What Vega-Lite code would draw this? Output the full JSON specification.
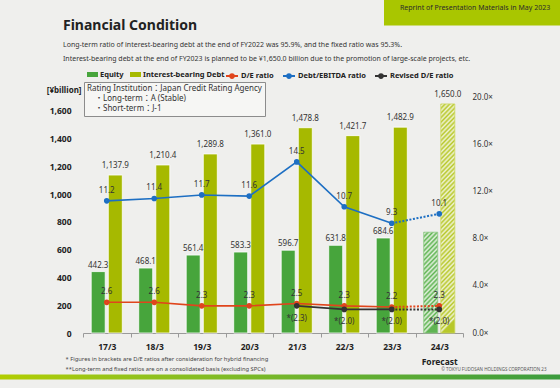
{
  "$schema": "https://vega.github.io/schema/vega-lite/v6.json",
  "width": 380,
  "height": 236,
  "autosize": {"type": "none"},
  "padding": {"left": 83, "top": 97, "right": 97, "bottom": 55},
  "background": "#efefed",
  "config": {
    "font": "Noto Sans, Noto Sans CJK JP, sans-serif",
    "view": {"stroke": null},
    "axis": {"grid": false, "labelOverlap": false, "labelFont": "Noto Sans, Noto Sans CJK JP, sans-serif", "titleFont": "Noto Sans, Noto Sans CJK JP, sans-serif"},
    "axisY": {"labelOverlap": false},
    "axisQuantitative": {"labelOverlap": false},
    "legend": {"labelFont": "Noto Sans, Noto Sans CJK JP, sans-serif", "titleFont": "Noto Sans, Noto Sans CJK JP, sans-serif", "padding": 0},
    "text": {"font": "Noto Sans, Noto Sans CJK JP, sans-serif"}
  },
  "title": {
    "text": "Financial Condition",
    "subtitle": [
      "Long-term ratio of interest-bearing debt at the end of FY2022 was 95.9%, and the fixed ratio was 95.3%.",
      "Interest-bearing debt at the end of FY2023 is planned to be ¥1,650.0 billion due to the promotion of large-scale projects, etc."
    ],
    "anchor": "start",
    "frame": "group",
    "dx": -20,
    "offset": -66.5,
    "font": "Noto Sans, Noto Sans CJK JP, sans-serif",
    "fontSize": 14,
    "fontWeight": "bold",
    "color": "#222222",
    "subtitleFont": "Noto Sans, Noto Sans CJK JP, sans-serif",
    "subtitleFontSize": 7,
    "subtitleColor": "#333333",
    "subtitleLineHeight": 14,
    "subtitlePadding": 8
  },
  "datasets": {
    "bars": [
      {"year": "17/3", "series": "Equity", "value": 442.3, "forecast": false},
      {"year": "17/3", "series": "Interest-bearing Debt", "value": 1137.9, "forecast": false},
      {"year": "18/3", "series": "Equity", "value": 468.1, "forecast": false},
      {"year": "18/3", "series": "Interest-bearing Debt", "value": 1210.4, "forecast": false},
      {"year": "19/3", "series": "Equity", "value": 561.4, "forecast": false},
      {"year": "19/3", "series": "Interest-bearing Debt", "value": 1289.8, "forecast": false},
      {"year": "20/3", "series": "Equity", "value": 583.3, "forecast": false},
      {"year": "20/3", "series": "Interest-bearing Debt", "value": 1361.0, "forecast": false},
      {"year": "21/3", "series": "Equity", "value": 596.7, "forecast": false},
      {"year": "21/3", "series": "Interest-bearing Debt", "value": 1478.8, "forecast": false},
      {"year": "22/3", "series": "Equity", "value": 631.8, "forecast": false},
      {"year": "22/3", "series": "Interest-bearing Debt", "value": 1421.7, "forecast": false},
      {"year": "23/3", "series": "Equity", "value": 684.6, "forecast": false},
      {"year": "23/3", "series": "Interest-bearing Debt", "value": 1482.9, "forecast": false},
      {"year": "24/3", "series": "Equity", "value": 726, "forecast": true},
      {"year": "24/3", "series": "Interest-bearing Debt", "value": 1650.0, "forecast": true}
    ],
    "ratios": [
      {"year": "17/3", "series": "D/E ratio", "value": 2.6, "forecast": false},
      {"year": "18/3", "series": "D/E ratio", "value": 2.6, "forecast": false},
      {"year": "19/3", "series": "D/E ratio", "value": 2.3, "forecast": false},
      {"year": "20/3", "series": "D/E ratio", "value": 2.3, "forecast": false},
      {"year": "21/3", "series": "D/E ratio", "value": 2.5, "forecast": false},
      {"year": "22/3", "series": "D/E ratio", "value": 2.3, "forecast": false},
      {"year": "23/3", "series": "D/E ratio", "value": 2.2, "forecast": false},
      {"year": "24/3", "series": "D/E ratio", "value": 2.3, "forecast": true},
      {"year": "17/3", "series": "Debt/EBITDA ratio", "value": 11.2, "forecast": false},
      {"year": "18/3", "series": "Debt/EBITDA ratio", "value": 11.4, "forecast": false},
      {"year": "19/3", "series": "Debt/EBITDA ratio", "value": 11.7, "forecast": false},
      {"year": "20/3", "series": "Debt/EBITDA ratio", "value": 11.6, "forecast": false},
      {"year": "21/3", "series": "Debt/EBITDA ratio", "value": 14.5, "forecast": false},
      {"year": "22/3", "series": "Debt/EBITDA ratio", "value": 10.7, "forecast": false},
      {"year": "23/3", "series": "Debt/EBITDA ratio", "value": 9.3, "forecast": false},
      {"year": "24/3", "series": "Debt/EBITDA ratio", "value": 10.1, "forecast": true},
      {"year": "21/3", "series": "Revised D/E ratio", "value": 2.3, "forecast": false},
      {"year": "22/3", "series": "Revised D/E ratio", "value": 2.0, "forecast": false},
      {"year": "23/3", "series": "Revised D/E ratio", "value": 2.0, "forecast": false},
      {"year": "24/3", "series": "Revised D/E ratio", "value": 2.0, "forecast": true}
    ]
  },
  "layer": [
    {
      "data": {"name": "bars"},
      "layer": [
        {
          "transform": [{"filter": "!datum.forecast"}],
          "mark": {"type": "bar", "stroke": "#ffffff", "strokeWidth": 0.8},
          "encoding": {
            "x": {
              "field": "year", "type": "nominal", "sort": null,
              "scale": {"domain": ["17/3", "18/3", "19/3", "20/3", "21/3", "22/3", "23/3", "24/3"], "paddingInner": 0, "paddingOuter": 0},
              "axis": {
                "title": ["* Figures  in brackets are D/E ratios after consideration for hybrid financing", "**Long-term and fixed ratios are on a consolidated basis (excluding SPCs)"],
                "titleFontSize": 5.8, "titleFontWeight": "normal", "titleColor": "#444444",
                "titleAlign": "left", "titleAnchor": "start", "titleBaseline": "top",
                "titleX": -18, "titleY": 22, "titleLineHeight": 10,
                "labelAngle": 0, "labelFontSize": 8.5, "labelFontWeight": "bold", "labelColor": "#222222",
                "labelPadding": 5, "labelLineHeight": 15.5,
                "labelExpr": "datum.value == '24/3' ? ['24/3', 'Forecast'] : datum.value",
                "tickBand": "extent", "tickSize": 4, "tickColor": "#9a9a9a",
                "domainColor": "#9a9a9a", "domainWidth": 1.2
              }
            },
            "xOffset": {"field": "series", "type": "nominal", "sort": null, "scale": {"domain": ["Equity", "Interest-bearing Debt"], "paddingInner": 0.18, "paddingOuter": 0.48}},
            "y": {
              "field": "value", "type": "quantitative",
              "scale": {"domain": [0, 1700], "nice": false},
              "axis": {
                "title": "[¥billion]", "titleAngle": 0, "titleAlign": "right", "titleBaseline": "middle",
                "titleX": -2, "titleY": -7, "titleFontSize": 8, "titleFontWeight": "bold", "titleColor": "#222222",
                "values": [0, 200, 400, 600, 800, 1000, 1200, 1400, 1600], "format": ",.0f",
                "labelOverlap": false, "tickCount": 9,
                "domain": false, "ticks": false, "labelPadding": 12,
                "labelFontSize": 8.5, "labelFontWeight": "bold", "labelColor": "#222222"
              }
            },
            "fill": {
              "field": "series", "type": "nominal", "sort": null,
              "scale": {"domain": ["Equity", "Interest-bearing Debt"], "range": ["#47a53c", "#a6b900"]},
              "legend": {
                "title": null, "orient": "none", "direction": "horizontal", "legendX": 4, "legendY": -28,
                "symbolType": "M-1,-0.45H1V0.45H-1Z", "symbolSize": 121, "symbolStrokeWidth": 0,
                "labelFontSize": 7.5, "labelFontWeight": "bold", "labelColor": "#222222", "labelOffset": 2,
                "columnPadding": 6, "padding": 0
              }
            }
          }
        },
        {
          "transform": [{"filter": "datum.forecast"}],
          "mark": {"type": "bar", "strokeWidth": 0.8},
          "encoding": {
            "x": {"field": "year", "type": "nominal", "sort": null},
            "xOffset": {"field": "series", "type": "nominal", "sort": null},
            "y": {"field": "value", "type": "quantitative"},
            "fill": {
              "condition": {
                "test": "datum.series == 'Equity'",
                "value": {
                  "gradient": "linear", "x1": 0, "y1": 0, "x2": 0.144, "y2": 1,
                  "stops": [
                    {"offset": 0, "color": "#5fb453"}, {"offset": 0.0227, "color": "#e4f1df"},
                    {"offset": 0.0455, "color": "#5fb453"}, {"offset": 0.0682, "color": "#e4f1df"},
                    {"offset": 0.0909, "color": "#5fb453"}, {"offset": 0.1136, "color": "#e4f1df"},
                    {"offset": 0.1364, "color": "#5fb453"}, {"offset": 0.1591, "color": "#e4f1df"},
                    {"offset": 0.1818, "color": "#5fb453"}, {"offset": 0.2045, "color": "#e4f1df"},
                    {"offset": 0.2273, "color": "#5fb453"}, {"offset": 0.25, "color": "#e4f1df"},
                    {"offset": 0.2727, "color": "#5fb453"}, {"offset": 0.2955, "color": "#e4f1df"},
                    {"offset": 0.3182, "color": "#5fb453"}, {"offset": 0.3409, "color": "#e4f1df"},
                    {"offset": 0.3636, "color": "#5fb453"}, {"offset": 0.3864, "color": "#e4f1df"},
                    {"offset": 0.4091, "color": "#5fb453"}, {"offset": 0.4318, "color": "#e4f1df"},
                    {"offset": 0.4545, "color": "#5fb453"}, {"offset": 0.4773, "color": "#e4f1df"},
                    {"offset": 0.5, "color": "#5fb453"}, {"offset": 0.5227, "color": "#e4f1df"},
                    {"offset": 0.5455, "color": "#5fb453"}, {"offset": 0.5682, "color": "#e4f1df"},
                    {"offset": 0.5909, "color": "#5fb453"}, {"offset": 0.6136, "color": "#e4f1df"},
                    {"offset": 0.6364, "color": "#5fb453"}, {"offset": 0.6591, "color": "#e4f1df"},
                    {"offset": 0.6818, "color": "#5fb453"}, {"offset": 0.7045, "color": "#e4f1df"},
                    {"offset": 0.7273, "color": "#5fb453"}, {"offset": 0.75, "color": "#e4f1df"},
                    {"offset": 0.7727, "color": "#5fb453"}, {"offset": 0.7955, "color": "#e4f1df"},
                    {"offset": 0.8182, "color": "#5fb453"}, {"offset": 0.8409, "color": "#e4f1df"},
                    {"offset": 0.8636, "color": "#5fb453"}, {"offset": 0.8864, "color": "#e4f1df"},
                    {"offset": 0.9091, "color": "#5fb453"}, {"offset": 0.9318, "color": "#e4f1df"},
                    {"offset": 0.9545, "color": "#5fb453"}, {"offset": 0.9773, "color": "#e4f1df"},
                    {"offset": 1, "color": "#5fb453"}
                  ]
                }
              },
              "value": {
                "gradient": "linear", "x1": 0, "y1": 0, "x2": 0.063, "y2": 1,
                "stops": [
                  {"offset": 0, "color": "#b8c82a"}, {"offset": 0.01, "color": "#f0f3d6"},
                  {"offset": 0.02, "color": "#b8c82a"}, {"offset": 0.03, "color": "#f0f3d6"},
                  {"offset": 0.04, "color": "#b8c82a"}, {"offset": 0.05, "color": "#f0f3d6"},
                  {"offset": 0.06, "color": "#b8c82a"}, {"offset": 0.07, "color": "#f0f3d6"},
                  {"offset": 0.08, "color": "#b8c82a"}, {"offset": 0.09, "color": "#f0f3d6"},
                  {"offset": 0.10, "color": "#b8c82a"}, {"offset": 0.11, "color": "#f0f3d6"},
                  {"offset": 0.12, "color": "#b8c82a"}, {"offset": 0.13, "color": "#f0f3d6"},
                  {"offset": 0.14, "color": "#b8c82a"}, {"offset": 0.15, "color": "#f0f3d6"},
                  {"offset": 0.16, "color": "#b8c82a"}, {"offset": 0.17, "color": "#f0f3d6"},
                  {"offset": 0.18, "color": "#b8c82a"}, {"offset": 0.19, "color": "#f0f3d6"},
                  {"offset": 0.20, "color": "#b8c82a"}, {"offset": 0.21, "color": "#f0f3d6"},
                  {"offset": 0.22, "color": "#b8c82a"}, {"offset": 0.23, "color": "#f0f3d6"},
                  {"offset": 0.24, "color": "#b8c82a"}, {"offset": 0.25, "color": "#f0f3d6"},
                  {"offset": 0.26, "color": "#b8c82a"}, {"offset": 0.27, "color": "#f0f3d6"},
                  {"offset": 0.28, "color": "#b8c82a"}, {"offset": 0.29, "color": "#f0f3d6"},
                  {"offset": 0.30, "color": "#b8c82a"}, {"offset": 0.31, "color": "#f0f3d6"},
                  {"offset": 0.32, "color": "#b8c82a"}, {"offset": 0.33, "color": "#f0f3d6"},
                  {"offset": 0.34, "color": "#b8c82a"}, {"offset": 0.35, "color": "#f0f3d6"},
                  {"offset": 0.36, "color": "#b8c82a"}, {"offset": 0.37, "color": "#f0f3d6"},
                  {"offset": 0.38, "color": "#b8c82a"}, {"offset": 0.39, "color": "#f0f3d6"},
                  {"offset": 0.40, "color": "#b8c82a"}, {"offset": 0.41, "color": "#f0f3d6"},
                  {"offset": 0.42, "color": "#b8c82a"}, {"offset": 0.43, "color": "#f0f3d6"},
                  {"offset": 0.44, "color": "#b8c82a"}, {"offset": 0.45, "color": "#f0f3d6"},
                  {"offset": 0.46, "color": "#b8c82a"}, {"offset": 0.47, "color": "#f0f3d6"},
                  {"offset": 0.48, "color": "#b8c82a"}, {"offset": 0.49, "color": "#f0f3d6"},
                  {"offset": 0.50, "color": "#b8c82a"}, {"offset": 0.51, "color": "#f0f3d6"},
                  {"offset": 0.52, "color": "#b8c82a"}, {"offset": 0.53, "color": "#f0f3d6"},
                  {"offset": 0.54, "color": "#b8c82a"}, {"offset": 0.55, "color": "#f0f3d6"},
                  {"offset": 0.56, "color": "#b8c82a"}, {"offset": 0.57, "color": "#f0f3d6"},
                  {"offset": 0.58, "color": "#b8c82a"}, {"offset": 0.59, "color": "#f0f3d6"},
                  {"offset": 0.60, "color": "#b8c82a"}, {"offset": 0.61, "color": "#f0f3d6"},
                  {"offset": 0.62, "color": "#b8c82a"}, {"offset": 0.63, "color": "#f0f3d6"},
                  {"offset": 0.64, "color": "#b8c82a"}, {"offset": 0.65, "color": "#f0f3d6"},
                  {"offset": 0.66, "color": "#b8c82a"}, {"offset": 0.67, "color": "#f0f3d6"},
                  {"offset": 0.68, "color": "#b8c82a"}, {"offset": 0.69, "color": "#f0f3d6"},
                  {"offset": 0.70, "color": "#b8c82a"}, {"offset": 0.71, "color": "#f0f3d6"},
                  {"offset": 0.72, "color": "#b8c82a"}, {"offset": 0.73, "color": "#f0f3d6"},
                  {"offset": 0.74, "color": "#b8c82a"}, {"offset": 0.75, "color": "#f0f3d6"},
                  {"offset": 0.76, "color": "#b8c82a"}, {"offset": 0.77, "color": "#f0f3d6"},
                  {"offset": 0.78, "color": "#b8c82a"}, {"offset": 0.79, "color": "#f0f3d6"},
                  {"offset": 0.80, "color": "#b8c82a"}, {"offset": 0.81, "color": "#f0f3d6"},
                  {"offset": 0.82, "color": "#b8c82a"}, {"offset": 0.83, "color": "#f0f3d6"},
                  {"offset": 0.84, "color": "#b8c82a"}, {"offset": 0.85, "color": "#f0f3d6"},
                  {"offset": 0.86, "color": "#b8c82a"}, {"offset": 0.87, "color": "#f0f3d6"},
                  {"offset": 0.88, "color": "#b8c82a"}, {"offset": 0.89, "color": "#f0f3d6"},
                  {"offset": 0.90, "color": "#b8c82a"}, {"offset": 0.91, "color": "#f0f3d6"},
                  {"offset": 0.92, "color": "#b8c82a"}, {"offset": 0.93, "color": "#f0f3d6"},
                  {"offset": 0.94, "color": "#b8c82a"}, {"offset": 0.95, "color": "#f0f3d6"},
                  {"offset": 0.96, "color": "#b8c82a"}, {"offset": 0.97, "color": "#f0f3d6"},
                  {"offset": 0.98, "color": "#b8c82a"}, {"offset": 0.99, "color": "#f0f3d6"},
                  {"offset": 1, "color": "#b8c82a"}
                ]
              }
            },
            "stroke": {"condition": {"test": "datum.series == 'Equity'", "value": "#8cc882"}, "value": "#cbd75a"}
          }
        },
        {
          "transform": [{"filter": "datum.series == 'Equity' && !datum.forecast"}],
          "mark": {"type": "text", "dy": -6, "fontSize": 8, "color": "#333333", "baseline": "middle"},
          "encoding": {
            "x": {"field": "year", "type": "nominal", "sort": null},
            "xOffset": {"field": "series", "type": "nominal", "sort": null},
            "y": {"field": "value", "type": "quantitative"},
            "text": {"field": "value", "type": "quantitative", "format": ",.1f"}
          }
        },
        {
          "transform": [{"filter": "datum.series == 'Interest-bearing Debt'"}],
          "mark": {"type": "text", "dy": -9, "fontSize": 8, "color": "#333333", "baseline": "middle"},
          "encoding": {
            "x": {"field": "year", "type": "nominal", "sort": null},
            "xOffset": {"field": "series", "type": "nominal", "sort": null},
            "y": {"field": "value", "type": "quantitative"},
            "text": {"field": "value", "type": "quantitative", "format": ",.1f"}
          }
        }
      ]
    },
    {
      "data": {"name": "ratios"},
      "layer": [
        {
          "transform": [{"filter": "!datum.forecast"}],
          "mark": {"type": "line", "strokeWidth": 1.6},
          "encoding": {
            "x": {"field": "year", "type": "nominal", "sort": null},
            "y": {
              "field": "value", "type": "quantitative",
              "scale": {"domain": [0, 20], "nice": false},
              "axis": {
                "orient": "right", "values": [0, 4, 8, 12, 16, 20],
                "labelExpr": "format(datum.value, '.1f') + '×'",
                "labelOverlap": false,
                "domain": false, "ticks": false, "labelPadding": 9,
                "labelFontSize": 8, "labelColor": "#333333",
                "title": "© TOKYU FUDOSAN HOLDINGS CORPORATION     23",
                "titleAngle": 0, "titleAlign": "right", "titleBaseline": "middle",
                "titleX": 83, "titleY": 272, "titleFontSize": 4.5, "titleFontWeight": "normal", "titleColor": "#555555"
              }
            },
            "stroke": {
              "field": "series", "type": "nominal", "sort": null,
              "scale": {"domain": ["D/E ratio", "Debt/EBITDA ratio", "Revised D/E ratio"], "range": ["#e0451c", "#1d6fc3", "#333333"]},
              "legend": {
                "title": null, "orient": "none", "direction": "horizontal", "legendX": 142, "legendY": -28,
                "symbolType": "M-1,0H1M0.3,0A0.3,0.3,0,1,1,-0.3,0A0.3,0.3,0,1,1,0.3,0",
                "symbolSize": 144, "symbolStrokeWidth": 2,
                "labelFontSize": 7.5, "labelFontWeight": "bold", "labelColor": "#222222", "labelOffset": 2,
                "columnPadding": 5, "padding": 0
              }
            }
          }
        },
        {
          "transform": [{"filter": "datum.year == '23/3' || datum.year == '24/3'"}],
          "mark": {"type": "line", "strokeWidth": 2, "strokeDash": [2, 1.6]},
          "encoding": {
            "x": {"field": "year", "type": "nominal", "sort": null},
            "y": {"field": "value", "type": "quantitative"},
            "stroke": {"field": "series", "type": "nominal", "sort": null, "legend": null}
          }
        },
        {
          "mark": {"type": "circle", "filled": false, "size": 7, "strokeWidth": 3, "opacity": 1},
          "encoding": {
            "x": {"field": "year", "type": "nominal", "sort": null},
            "y": {"field": "value", "type": "quantitative"},
            "stroke": {"field": "series", "type": "nominal", "sort": null, "legend": null}
          }
        },
        {
          "transform": [{"filter": "datum.series != 'Revised D/E ratio'"}],
          "mark": {"type": "text", "dy": -10, "fontSize": 8, "color": "#333333", "baseline": "middle"},
          "encoding": {
            "x": {"field": "year", "type": "nominal", "sort": null},
            "y": {"field": "value", "type": "quantitative"},
            "text": {"field": "value", "type": "quantitative", "format": ".1f"}
          }
        },
        {
          "transform": [{"filter": "datum.series == 'Revised D/E ratio'"}],
          "mark": {"type": "text", "dy": 13, "fontSize": 8, "color": "#333333", "baseline": "middle", "text": {"expr": "'*(' + format(datum.value, '.1f') + ')'"}},
          "encoding": {
            "x": {"field": "year", "type": "nominal", "sort": null},
            "y": {"field": "value", "type": "quantitative"}
          }
        }
      ]
    },
    {
      "data": {"values": [{"item": "・Long-term：A (Stable)"}, {"item": "・Short-term：J-1"}]},
      "mark": {"type": "point", "opacity": 0},
      "encoding": {
        "shape": {
          "field": "item", "type": "nominal", "sort": null,
          "legend": {
            "title": "Rating Institution：Japan Credit Rating Agency",
            "orient": "none", "legendX": 1, "legendY": -15, "direction": "vertical",
            "padding": 3, "strokeColor": "#8c8c8c", "fillColor": "#f6f6f4",
            "titleFontSize": 8, "titleFontWeight": "normal", "titleColor": "#333333", "titlePadding": 2,
            "labelFontSize": 8, "labelColor": "#333333", "labelOffset": 0,
            "symbolSize": 0, "symbolOpacity": 0, "symbolStrokeWidth": 0, "rowPadding": 2
          }
        }
      }
    },
    {
      "data": {"values": [{"note": "Reprint of Presentation Materials in May 2023"}]},
      "mark": {"type": "point", "opacity": 0},
      "encoding": {
        "strokeDash": {
          "field": "note", "type": "nominal",
          "legend": {
            "title": ".", "titleOrient": "bottom", "titleFontSize": 4, "titleOpacity": 0, "titlePadding": 1,
            "orient": "none", "legendX": 301, "legendY": -101.5, "padding": 9, "fillColor": "#a9c600",
            "labelFontSize": 7, "labelColor": "#2b2b2b", "labelOffset": 0, "labelLimit": 400,
            "symbolSize": 0, "symbolOpacity": 0, "symbolStrokeWidth": 0
          }
        }
      }
    },
    {
      "data": {"values": [{"g": 0}, {"g": 1}]},
      "mark": {"type": "point", "opacity": 0},
      "encoding": {
        "color": {
          "field": "g", "type": "quantitative",
          "scale": {"domain": [0, 1], "range": ["#b2cd00", "#3b9b3d"]},
          "legend": {
            "orient": "none", "direction": "horizontal", "legendX": -83, "legendY": 277.5,
            "gradientLength": 560, "gradientThickness": 5, "gradientStrokeWidth": 0,
            "title": null, "labelOpacity": 0, "labelFontSize": 1, "tickCount": 2, "padding": 0
          }
        }
      }
    }
  ],
  "resolve": {"scale": {"y": "independent"}}
}
